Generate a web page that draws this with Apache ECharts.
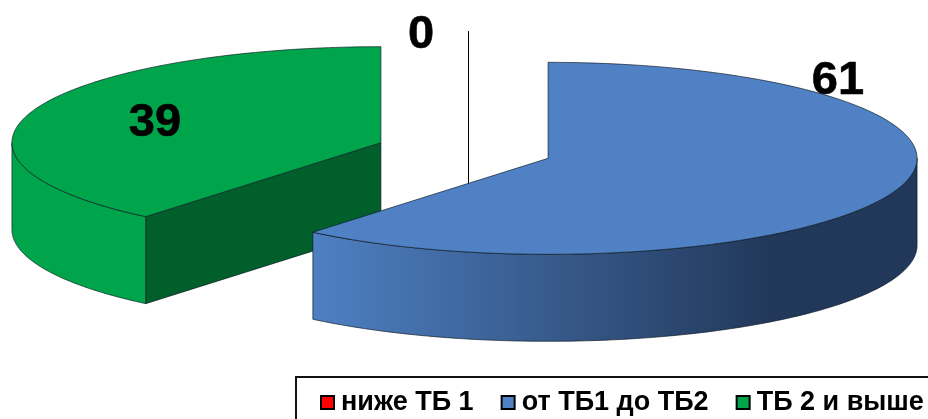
<!DOCTYPE html>
<html><head><meta charset="utf-8">
<style>html,body{margin:0;padding:0;background:#fff}#c{width:928px;height:419px}</style>
<script src="https://cdn.jsdelivr.net/npm/echarts@6/dist/echarts.min.js"></script>
</head><body><div id="c"></div>
<script>
const categories = ['ниже ТБ 1', 'от ТБ1 до ТБ2', 'ТБ 2 и выше'];
const values = [0, 61, 39];

const colors = ['#FF0000', '#4F81C4', '#00A44B'];
const dark = { 1: '#22385A', 2: '#005F2B' };
const geo = { cx: 464.5, cy: 150.5, rx: 369, ry: 96, depth: 87, explode: 0.2407 };
const labelPos = [[421, 35], [838, 81], [155, 123]];
const leader = { x: 468.5, y0: 31, y1: 190 };
const seriesZ = [2, 5, 1];
const total = values.reduce((a, b) => a + b, 0);
const stroke = 'rgba(10,20,30,0.8)';
const font = 'bold 47px "Liberation Sans", Arial, sans-serif';

function wedge(i) {
  const before = values.slice(0, i).reduce((a, b) => a + b, 0);
  const a0 = before / total * 2 * Math.PI;
  const a1 = (before + values[i]) / total * 2 * Math.PI;
  const mid = (a0 + a1) / 2;
  const cx = geo.cx + geo.explode * geo.rx * Math.sin(mid);
  const cy = geo.cy - geo.explode * geo.ry * Math.cos(mid);
  return { a0, a1, cx, cy };
}
function arc(w, from, to, dy) {
  const pts = [], n = 120;
  for (let k = 0; k <= n; k++) {
    const a = from + (to - from) * k / n;
    pts.push([w.cx + geo.rx * Math.sin(a), w.cy - geo.ry * Math.cos(a) + dy]);
  }
  return pts;
}
function sideFill(i) {
  if (i === 1) {
    return new echarts.graphic.LinearGradient(0, 0, 1, 0, [
      { offset: 0, color: '#4E80C2' },
      { offset: 0.757, color: '#22385A' },
      { offset: 1, color: '#22385A' }
    ]);
  }
  return colors[i];
}
function renderItem(params, api) {
  const i = params.seriesIndex;
  const value = api.value(0);
  const children = [];
  if (value > 0) {
    const w = wedge(i);
    const startEdge = arc(w, w.a0, w.a0, 0)[0];
    if (w.a0 > Math.PI && w.a0 < 2 * Math.PI) {
      children.push({ type: 'polygon', shape: { points: [
        [w.cx, w.cy], startEdge, [startEdge[0], startEdge[1] + geo.depth], [w.cx, w.cy + geo.depth]
      ] }, style: { fill: dark[i], stroke, lineWidth: 0.8 } });
    }
    const lo = Math.max(w.a0, Math.PI / 2), hi = Math.min(w.a1, 3 * Math.PI / 2);
    if (hi > lo) {
      const top = arc(w, lo, hi, 0), bot = arc(w, hi, lo, geo.depth);
      children.push({ type: 'polygon', shape: { points: top.concat(bot) },
        style: { fill: sideFill(i), stroke, lineWidth: 0.8 } });
    }
    children.push({ type: 'polygon',
      shape: { points: [[w.cx, w.cy]].concat(arc(w, w.a0, w.a1, 0)) },
      style: { fill: colors[i], stroke, lineWidth: 0.8, lineJoin: 'miter' } });
  } else {
    children.push({ type: 'line', shape: { x1: leader.x, y1: leader.y0, x2: leader.x, y2: leader.y1 },
      style: { stroke: '#000', lineWidth: 1 } });
  }
  children.push({ type: 'text', style: {
    text: String(value), x: labelPos[i][0], y: labelPos[i][1],
    font, fill: '#000', stroke: '#000', lineWidth: 0.6, align: 'center', verticalAlign: 'middle' } });
  return { type: 'group', children };
}

const chart = echarts.init(document.getElementById('c'), null, { renderer: 'canvas' });
chart.setOption({
  animation: false,
  backgroundColor: '#fff',
  legend: {
    left: 296, top: 377,
    width: 900,
    padding: [12, 100, 30, 24],
    orient: 'horizontal',
    data: categories,
    icon: 'rect',
    itemWidth: 13, itemHeight: 13, itemGap: 27,
    borderColor: '#111', borderWidth: 2,
    itemStyle: { borderColor: '#000', borderWidth: 2 },
    textStyle: { fontFamily: '"Liberation Sans", Arial, sans-serif', fontWeight: 'bold', fontSize: 27, color: '#000', padding: [0, 0, 0, 2] },
    selectedMode: false
  },
  series: categories.map((name, i) => ({
    type: 'custom', name, z: seriesZ[i], coordinateSystem: 'none',
    itemStyle: { color: colors[i] },
    data: [[values[i]]],
    renderItem, silent: true, clip: false
  }))
});
</script></body></html>
